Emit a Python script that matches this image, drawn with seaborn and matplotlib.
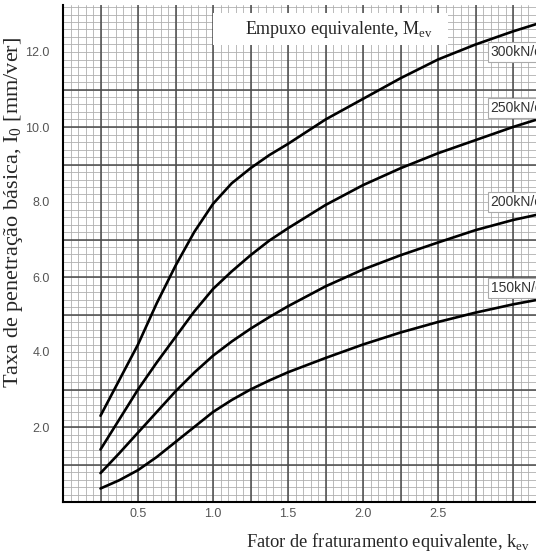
import numpy as np
import pandas as pd
import seaborn as sns
import matplotlib.pyplot as plt
from matplotlib.patches import Rectangle

k_ev = [0.25, 0.375, 0.5, 0.625, 0.75, 0.875, 1.0, 1.125, 1.25, 1.375, 1.5,
        1.75, 2.0, 2.25, 2.5, 2.75, 3.0, 3.16]
i0_300 = [2.3, 3.25, 4.2, 5.3, 6.3, 7.2, 7.95, 8.5, 8.9, 9.25, 9.55,
          10.2, 10.75, 11.3, 11.8, 12.2, 12.55, 12.75]
i0_250 = [1.4, 2.2, 3.0, 3.72, 4.4, 5.08, 5.68, 6.15, 6.58, 6.97, 7.3,
          7.92, 8.45, 8.9, 9.3, 9.65, 10.0, 10.2]
i0_200 = [0.77, 1.3, 1.85, 2.4, 2.95, 3.45, 3.9, 4.28, 4.62, 4.93, 5.22,
          5.75, 6.2, 6.58, 6.92, 7.25, 7.52, 7.66]
i0_150 = [0.36, 0.58, 0.85, 1.2, 1.6, 2.0, 2.4, 2.72, 3.0, 3.24, 3.46,
          3.84, 4.2, 4.52, 4.8, 5.05, 5.27, 5.39]

curvas = ["300kN/cm²", "250kN/cm²", "200kN/cm²", "150kN/cm²"]
# posição dos rótulos das curvas (k, I0)
rotulo_k = [2.85, 2.85, 2.85, 2.85]
rotulo_i = [12.0, 10.5, 8.0, 5.7]

x_ticks = [0.5, 1.0, 1.5, 2.0, 2.5]
y_ticks = [2.0, 4.0, 6.0, 8.0, 10.0, 12.0]

df = pd.DataFrame({
    "k": k_ev * 4,
    "I0": i0_300 + i0_250 + i0_200 + i0_150,
    "Mev": np.repeat(curvas, len(k_ev)),
})

sns.set_style("white")
plt.rcParams["font.family"] = ["Liberation Serif", "DejaVu Serif"]

fig = plt.figure(figsize=(5.36, 5.52), dpi=100)
ax = fig.add_axes([63 / 536, 50 / 552, 473 / 536, 497 / 552])

# Papel milimetrado
for x in np.arange(0, 3.2, 0.05):
    ax.axvline(x, color="#b0b0b0", lw=0.6, zorder=0)
for y in np.arange(0, 13.3, 0.2):
    ax.axhline(y, color="#b0b0b0", lw=0.6, zorder=0)
for x in np.arange(0.25, 3.2, 0.25):
    ax.axvline(x, color="#4a4a4a", lw=1.1, zorder=0.5)
for y in [1, 2, 3, 5, 6, 7, 9, 10, 11]:
    ax.axhline(y, color="#4a4a4a", lw=1.1, zorder=0.5)

sns.lineplot(
    data=df, x="k", y="I0", hue="Mev",
    palette=["black"] * 4, linewidth=1.9, legend=False, ax=ax, zorder=3,
)

for nome, xk, yi in zip(curvas, rotulo_k, rotulo_i):
    ax.text(xk, yi, nome, family="Liberation Sans", fontsize=10, color="#333333",
            ha="left", va="center", zorder=4, clip_on=True,
            bbox=dict(boxstyle="square,pad=0.2", fc="white", ec="#aaaaaa", lw=0.8))

# Caixa do título
ax.add_patch(Rectangle((1.0, 12.19), 1.567, 0.85, fc="white", ec="none", zorder=2))
ax.text(1.84, 12.6, r"Empuxo equivalente, M$_{\mathregular{ev}}$", fontsize=13,
        ha="center", va="center", zorder=4)

ax.set_xlim(0, 473 / 150)
ax.set_ylim(0, 497 / 37.5)
ax.set_xticks(x_ticks)
ax.set_xticklabels([f"{v:.1f}" for v in x_ticks])
ax.set_yticks(y_ticks)
ax.set_yticklabels([f"{v:.1f}" for v in y_ticks])
for lab in ax.get_xticklabels() + ax.get_yticklabels():
    lab.set_family("Liberation Sans")
    lab.set_color("#555555")
    lab.set_fontsize(9)
ax.tick_params(axis="both", length=0)
ax.tick_params(axis="y", pad=9.5)
ax.tick_params(axis="x", pad=4)

for s in ["top", "right"]:
    ax.spines[s].set_visible(False)
for s in ["left", "bottom"]:
    ax.spines[s].set_color("black")
    ax.spines[s].set_linewidth(1.5)

ax.set_xlabel(r"Fator de fraturamento equivalente, k$_{\mathregular{ev}}$",
              fontsize=13.3, va="center")
ax.xaxis.set_label_coords(0.688, -0.0805)
ax.set_ylabel(r"Taxa de penetração básica, I$_{\mathregular{0}}$ [mm/ver]",
              fontsize=16, va="center")
ax.yaxis.set_label_coords(-0.104, 0.583)

fig.savefig("out.png", dpi=100)
